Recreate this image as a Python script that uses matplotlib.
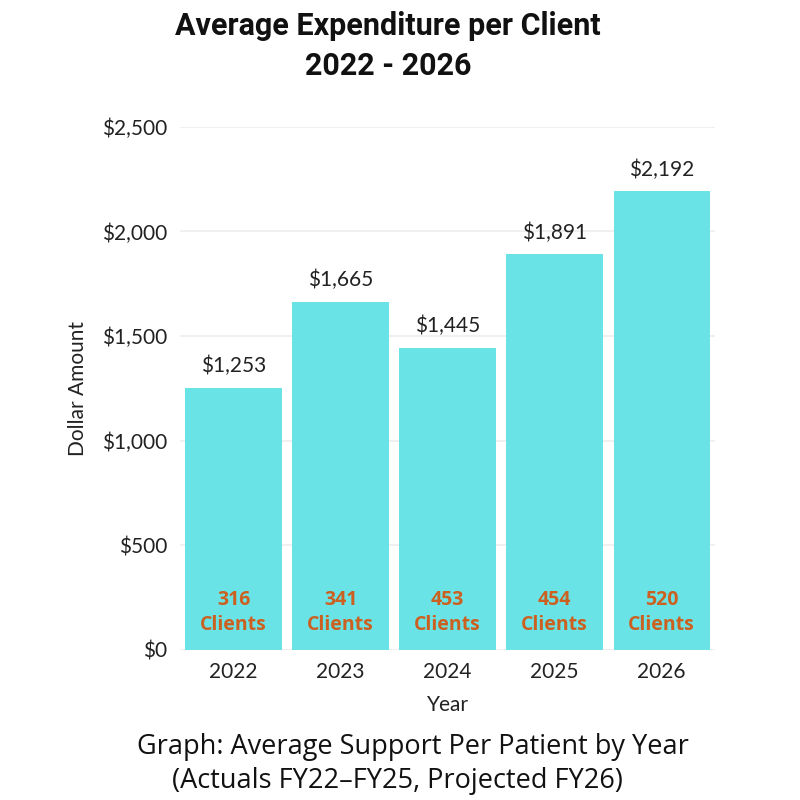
import matplotlib.pyplot as plt
import matplotlib.ticker as mtick

years = ['2022', '2023', '2024', '2025', '2026']
avg_spend = [1253, 1665, 1445, 1891, 2192]
clients = [316, 341, 453, 454, 520]

bar_color = '#6ae3e6'
client_color = '#cc6020'
text_color = '#222222'

plt.rcParams['font.family'] = ['Lato', 'DejaVu Sans']

fig = plt.figure(figsize=(8, 8), dpi=100)
ax = fig.add_axes([0.225, 0.1875, 0.669, 0.654])

x = range(len(years))
ax.bar(x, avg_spend, width=0.9, color=bar_color, zorder=2)

for i, (v, c) in enumerate(zip(avg_spend, clients)):
    ax.text(i, v + 55, f'${v:,}', ha='center', va='bottom', fontsize=15, color=text_color)
    ax.text(i, 180, f'{c}\nClients', ha='center', va='center', fontsize=14,
            fontweight='bold', color=client_color, linespacing=1.35,
            family=['Open Sans', 'DejaVu Sans'])

ax.set_xlim(-0.5, 4.5)
ax.set_ylim(0, 2500)
ax.set_yticks([0, 500, 1000, 1500, 2000, 2500])
ax.yaxis.set_major_formatter(mtick.FuncFormatter(lambda v, p: f'${int(v):,}'))
ax.set_xticks(list(x))
ax.set_xticklabels(years)
ax.tick_params(axis='both', length=0, labelsize=15, colors=text_color)
ax.tick_params(axis='x', pad=9)
ax.tick_params(axis='y', pad=9)
ax.grid(axis='y', color='#eeeeee', linewidth=1.2, zorder=0)
for s in ax.spines.values():
    s.set_visible(False)

ax.set_xlabel('Year', fontsize=15, color=text_color, labelpad=9)
ax.set_ylabel('Dollar Amount', fontsize=15, color=text_color, labelpad=10)

title_font = ['Roboto', 'DejaVu Sans']
fig.text(0.485, 0.968, 'Average Expenditure per Client', ha='center', va='center',
         fontsize=22, fontweight='bold', color='#111111', family=title_font)
fig.text(0.485, 0.918, '2022 - 2026', ha='center', va='center',
         fontsize=22, fontweight='bold', color='#111111', family=title_font)

fig.text(0.516, 0.066, 'Graph: Average Support Per Patient by Year', ha='center', va='center',
         fontsize=19.5, color='#111111', family=['Open Sans', 'DejaVu Sans'])
fig.text(0.497, 0.024, '(Actuals FY22\u2013FY25, Projected FY26)', ha='center', va='center',
         fontsize=19.5, color='#111111', family=['Open Sans', 'DejaVu Sans'])

fig.savefig('out.png', dpi=100)
